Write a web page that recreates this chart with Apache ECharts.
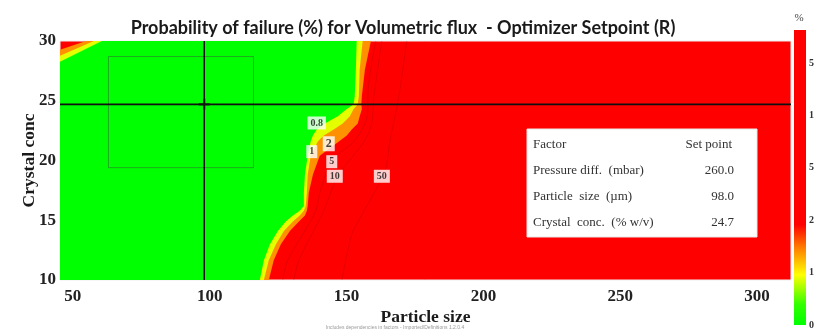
<!DOCTYPE html>
<html><head><meta charset="utf-8">
<script src="https://cdn.jsdelivr.net/npm/echarts@6/dist/echarts.min.js"></script>
<style>html,body{margin:0;padding:0;background:#fff}#c{width:814px;height:331px}</style>
</head><body><div id="c"></div>
<script>
// Crystal conc levels at which the contour edges are listed (bottom -> top)
const levelY = [10, 11.65, 13.0, 14.1, 14.9, 15.4, 15.8, 16.2, 17.3, 18.8, 20.4, 21.6, 22.1, 22.6, 23.1, 23.7, 24.3, 24.7, 25.4, 27.6, 30];
// Particle size where the low-risk zone ends, per level
const edgeGreen  = [118.3, 119.8, 122.0, 124.9, 127.8, 130.4, 132.9, 134.4, 134.4, 134.8, 135.8, 136.9, 137.7, 139.1, 142.1, 146.8, 150.1, 152.6, 153.0, 153.4, 153.7];
const edgeYellow = [119.8, 121.6, 124.2, 127.1, 130.4, 132.9, 134.4, 135.1, 135.5, 135.8, 136.9, 139.5, 141.7, 145.3, 148.6, 151.2, 152.6, 154.1, 154.5, 154.8, 155.9];
const edgeRed    = [121.6, 123.4, 126.0, 129.3, 132.6, 134.8, 135.5, 135.8, 136.2, 137.7, 140.2, 147.2, 150.1, 151.9, 154.1, 154.8, 155.6, 155.4, 155.6, 156.7, 158.9];
// Upper-left corner contours: [particle size on the top edge, crystal conc on the left edge]
const cornerGreen  = [60.6, 28.26];
const cornerYellow = [57.7, 28.76];
const cornerRed    = [54.8, 29.26];

// Contour lines inside the high-risk zone
const line5Y  = [10, 11.65, 14.13, 15.79, 17.27, 20.0, 21.57, 23.06, 24.3, 25.37, 30];
const line5X  = [126.7, 128.5, 134.8, 138.8, 140.2, 144.6, 152.6, 156.7, 157.8, 157.8, 160.7];
const line10Y = [10, 11.65, 14.13, 15.79, 18.68, 21.57, 23.06, 25.37, 30];
const line10X = [130.7, 132.6, 138.0, 141.7, 146.8, 156.3, 159.2, 160.0, 162.9];
const line50Y = [10, 13.8, 15.45, 19.09, 21.57, 25.37, 30];
const line50X = [148.3, 151.9, 155.6, 164.0, 165.8, 169.1, 172.0];

const contourLabels = ['0.8', '2', '1', '5', '10', '50'];
const contourLabelX = [139.1, 143.5, 137.3, 144.6, 145.7, 162.9];
const contourLabelY = [23.14, 21.4, 20.74, 19.9, 18.68, 18.68];

const xTicks = [50, 100, 150, 200, 250, 300];
const colorbarTicks = ['50', '10', '5', '2', '1', '0'];

const tableHeader  = ['Factor', 'Set point'];
const tableFactors = ['Pressure diff.  (mbar)', 'Particle  size  (µm)', 'Crystal  conc.  (% w/v)'];
const tableValues  = ['260.0', '98.0', '24.7'];

// Sweet-spot window
const boxX = [63, 116];
const boxY = [19.4, 28.7];

const XMIN = 45.3, XMAX = 312.4, YMIN = 10, YMAX = 30;
const setX = parseFloat(tableValues[1]);
const setY = parseFloat(tableValues[2]);

function band(edge, corner, color, z) {
  return {
    type: 'custom', coordinateSystem: 'cartesian2d', silent: true, z: z,
    data: [[XMIN + 1, 20]],
    renderItem: function (params, api) {
      const pts = [[XMIN, YMIN]];
      levelY.forEach(function (y, i) { pts.push([edge[i], y]); });
      pts.push([corner[0], YMAX], [XMIN, corner[1]]);
      return { type: 'polygon', shape: { points: pts.map(function (p) { return api.coord(p); }) }, style: { fill: color } };
    }
  };
}
function contourLine(xs, ys) {
  return {
    type: 'line', silent: true, z: 3, symbol: 'none', smooth: 0.3,
    data: ys.map(function (y, i) { return [xs[i], y]; }),
    lineStyle: { color: 'rgba(140,0,0,0.22)', width: 1 }
  };
}

const serif = '"Liberation Serif", "DejaVu Serif", serif';
const chart = echarts.init(document.getElementById('c'), null, { renderer: 'canvas' });

const tableFont = '13px ' + serif;
const tableGraphics = [
  { type: 'rect', shape: { x: 527, y: 129, width: 230, height: 108 }, style: { fill: '#fff', stroke: '#e6e6e6', lineWidth: 1 }, z: 100 },
  { type: 'text', x: 533, y: 145, style: { text: tableHeader[0], font: tableFont, fill: '#333', textVerticalAlign: 'middle' }, z: 101 },
  { type: 'text', x: 732, y: 145, style: { text: tableHeader[1], font: tableFont, fill: '#333', textAlign: 'right', textVerticalAlign: 'middle' }, z: 101 }
];
tableFactors.forEach(function (f, i) {
  const y = 171 + i * 26;
  tableGraphics.push({ type: 'text', x: 533, y: y, style: { text: f, font: tableFont, fill: '#333', textVerticalAlign: 'middle' }, z: 101 });
  tableGraphics.push({ type: 'text', x: 734, y: y, style: { text: tableValues[i], font: tableFont, fill: '#333', textAlign: 'right', textVerticalAlign: 'middle' }, z: 101 });
});

// Colour bar
const barTop = 30, barBottom = 325;
const colorbarGraphics = [
  { type: 'rect', shape: { x: 794, y: barTop, width: 12, height: barBottom - barTop },
    style: { fill: new echarts.graphic.LinearGradient(0, 0, 0, 1, [
      { offset: 0, color: '#ff0000' }, { offset: 0.66, color: '#ff0000' },
      { offset: 0.74, color: '#ff8000' }, { offset: 0.83, color: '#ffff00' },
      { offset: 0.93, color: '#33ff00' }, { offset: 1, color: '#00ff00' }]) } },
  { type: 'text', x: 799, y: 18, style: { text: '%', font: '11px ' + serif, fill: '#444', textAlign: 'center', textVerticalAlign: 'middle' } }
];
colorbarTicks.forEach(function (t, i) {
  colorbarGraphics.push({ type: 'text', x: 809, y: 63 + i * 52.4, style: { text: t, font: 'bold 10px ' + serif, fill: '#333', textVerticalAlign: 'middle' } });
});

chart.setOption({
  animation: false,
  title: {
    text: 'Probability of failure (%) for Volumetric flux  - Optimizer Setpoint (R)',
    left: 398, top: 14, textAlign: 'center',
    textStyle: { fontFamily: 'Lato', fontWeight: 'bold', fontSize: 18, color: '#1a1a1a' }
  },
  grid: { left: 60, right: 23, top: 41, bottom: 48, show: true, backgroundColor: '#ff0000', borderColor: '#eee', borderWidth: 1 },
  xAxis: {
    type: 'value', min: XMIN, max: XMAX,
    name: 'Particle size', nameLocation: 'middle', nameGap: 28, nameMoveOverlap: false,
    nameTextStyle: { fontFamily: serif, fontWeight: 'bold', fontSize: 17.5, color: '#1a1a1a' },
    axisLine: { show: false }, axisTick: { show: false }, splitLine: { show: false },
    axisLabel: { customValues: xTicks, fontFamily: serif, fontWeight: 'bold', fontSize: 17, color: '#222', margin: 8 }
  },
  yAxis: {
    type: 'value', min: YMIN, max: YMAX, interval: 5,
    name: 'Crystal conc', nameLocation: 'middle', nameGap: 22, nameMoveOverlap: false,
    nameTextStyle: { fontFamily: serif, fontWeight: 'bold', fontSize: 17.5, color: '#1a1a1a' },
    axisLine: { show: false }, axisTick: { show: false }, splitLine: { show: false },
    axisLabel: { fontFamily: serif, fontWeight: 'bold', fontSize: 17, color: '#222', margin: 4 }
  },
  graphic: tableGraphics.concat(colorbarGraphics).concat([
    { type: 'text', x: 395, y: 328, style: { text: 'Includes dependencies in factors - Imported/Definitions 1.2.0.4', font: '5px sans-serif', fill: '#999', textAlign: 'center', textVerticalAlign: 'middle' } }
  ]),
  series: [
    band(edgeRed, cornerRed, '#ff9000', 1),
    band(edgeYellow, cornerYellow, '#e4ff00', 1),
    band(edgeGreen, cornerGreen, '#00ff00', 2),
    contourLine(line5X, line5Y),
    contourLine(line10X, line10Y),
    contourLine(line50X, line50Y),
    {
      type: 'line', silent: true, z: 4, symbol: 'none',
      data: [[boxX[0], boxY[0]], [boxX[1], boxY[0]], [boxX[1], boxY[1]], [boxX[0], boxY[1]], [boxX[0], boxY[0]]],
      lineStyle: { color: 'rgba(60,90,60,0.5)', width: 1 }
    },
    {
      type: 'line', silent: true, z: 5, symbol: 'none',
      data: [[setX, YMIN], [setX, YMAX]], lineStyle: { color: '#111', width: 1.6 }
    },
    {
      type: 'line', silent: true, z: 5, symbol: 'none',
      data: [[XMIN, setY], [XMAX, setY]], lineStyle: { color: '#111', width: 1.6 }
    },
    {
      type: 'scatter', silent: true, z: 6,
      symbol: 'path://M4,0H6V4H10V6H6V10H4V6H0V4H4Z', symbolSize: 11,
      itemStyle: { color: '#111' }, data: [[setX, setY]]
    },
    {
      type: 'scatter', silent: true, z: 7, symbolSize: 0,
      data: contourLabels.map(function (t, i) {
        return { name: t, value: [contourLabelX[i], contourLabelY[i]], label: t === '2' ? { fontSize: 12 } : undefined };
      }),
      label: {
        show: true, position: 'inside', formatter: '{b}',
        fontFamily: serif, fontSize: 10, color: '#111', fontWeight: 'bold',
        backgroundColor: '#fff', padding: [2, 3, 1, 3]
      }
    }
  ]
});
</script>
</body></html>
